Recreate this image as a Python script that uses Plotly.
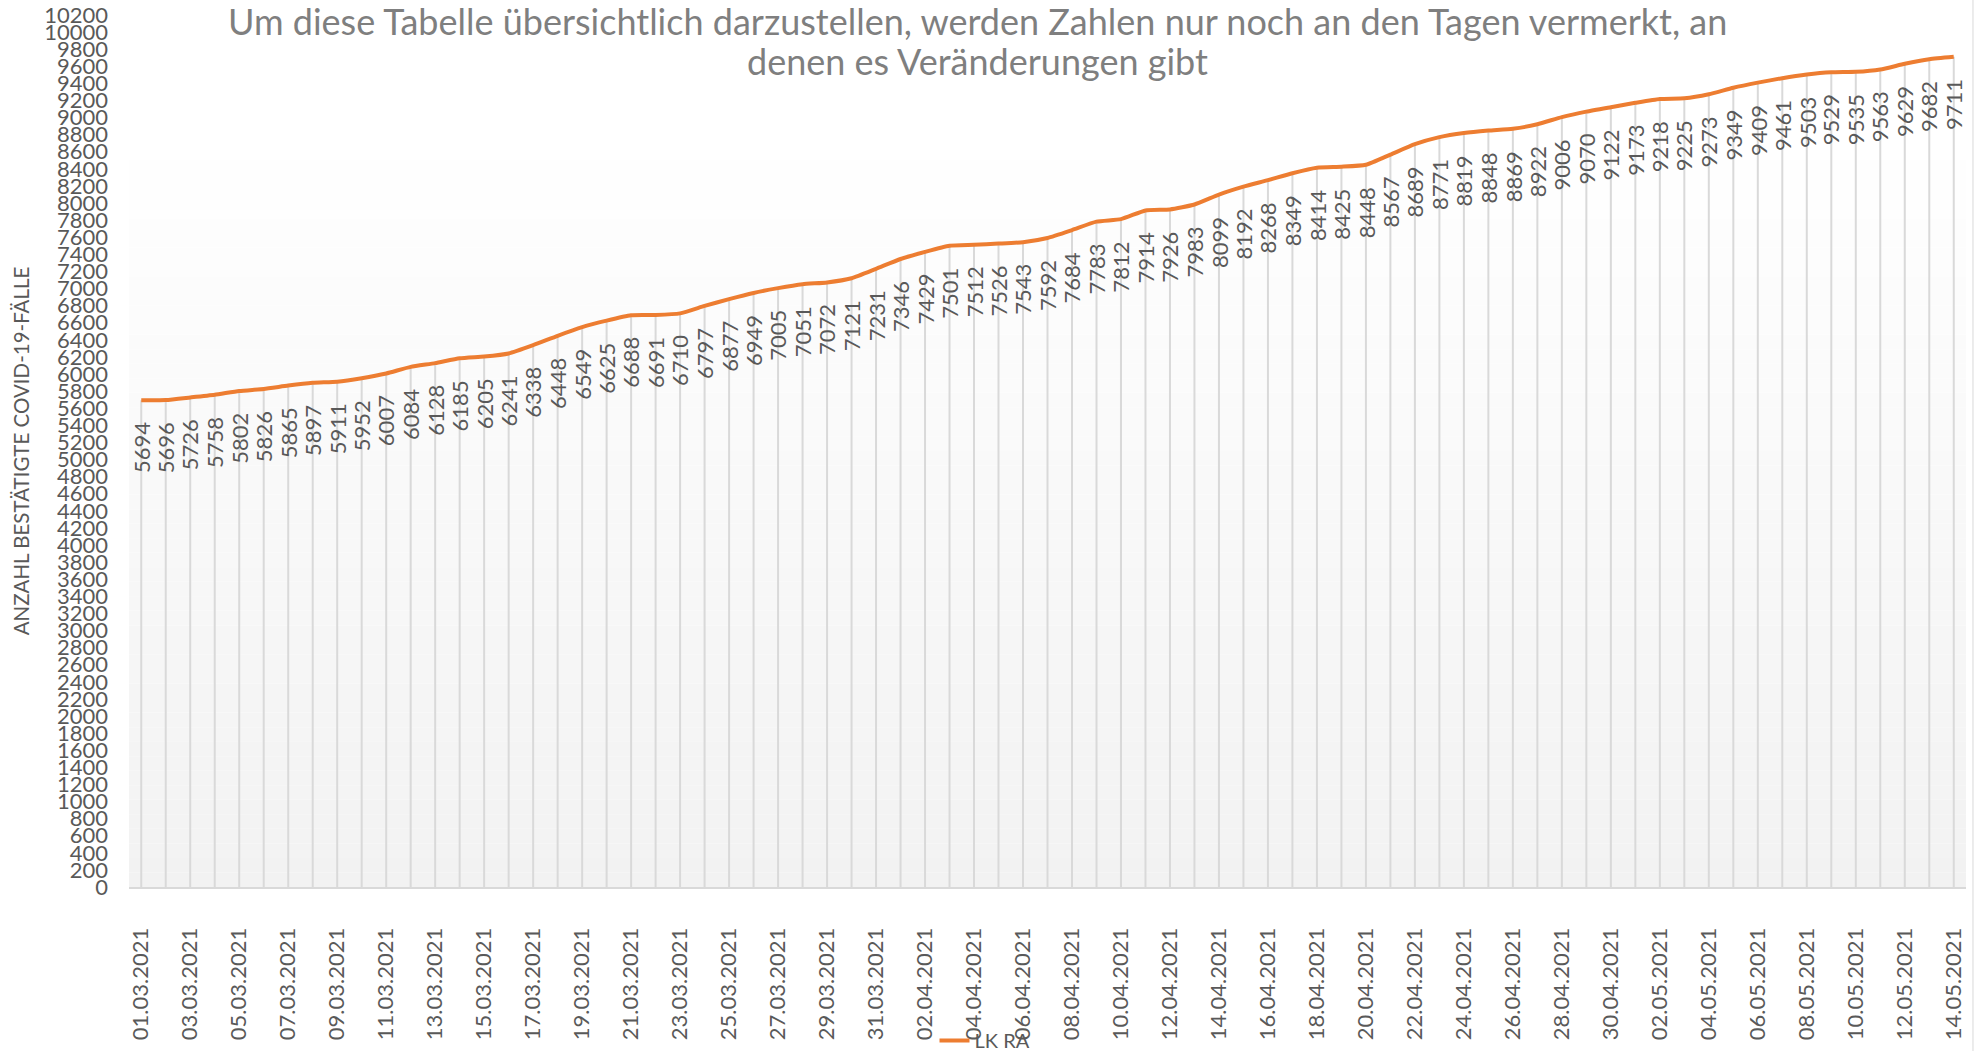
import plotly.graph_objects as go
import pandas as pd

dates = [d.strftime("%d.%m.%Y") for d in pd.date_range("2021-03-01", "2021-05-14", freq="D")]
values = [5694, 5696, 5726, 5758, 5802, 5826, 5865, 5897, 5911, 5952,
          6007, 6084, 6128, 6185, 6205, 6241, 6338, 6448, 6549, 6625,
          6688, 6691, 6710, 6797, 6877, 6949, 7005, 7051, 7072, 7121,
          7231, 7346, 7429, 7501, 7512, 7526, 7543, 7592, 7684, 7783,
          7812, 7914, 7926, 7983, 8099, 8192, 8268, 8349, 8414, 8425,
          8448, 8567, 8689, 8771, 8819, 8848, 8869, 8922, 9006, 9070,
          9122, 9173, 9218, 9225, 9273, 9349, 9409, 9461, 9503, 9529,
          9535, 9563, 9629, 9682, 9711]
series_name = "LK RA"
title_lines = ["Um diese Tabelle übersichtlich darzustellen, werden Zahlen nur noch an den Tagen vermerkt, an",
               "denen es Veränderungen gibt"]
y_title = "ANZAHL BESTÄTIGTE COVID-19-FÄLLE"
y_ticks = list(range(0, 10201, 200))
y_ticktext = [str(v) for v in y_ticks]

FONT = "Lato"
TXT = "#595959"

fig = go.Figure()

# drop lines
fig.add_trace(go.Scatter(
    x=dates, y=values, mode="markers",
    marker=dict(size=1, color="rgba(0,0,0,0)"),
    error_y=dict(type="data", symmetric=False, array=[0] * len(values),
                 arrayminus=values, width=0, thickness=2, color="#d9d9d9"),
    showlegend=False, hoverinfo="skip"))

fig.add_trace(go.Scatter(
    x=dates, y=values, mode="lines", name=series_name,
    line=dict(color="#ED7D31", width=4, shape="spline", smoothing=0.5)))

# data labels
for d, v in zip(dates, values):
    fig.add_annotation(x=d, y=v, text=str(v), showarrow=False, textangle=-90,
                       xanchor="center", yanchor="top", yshift=-20,
                       font=dict(family=FONT, size=22, color=TXT))

# title (two centred lines)
for line, yp in zip(title_lines, [1 + (15 - 21) / 872, 1 + (15 - 61) / 872]):
    fig.add_annotation(text=line, xref="paper", yref="paper", x=(977 - 129) / 1837, y=yp,
                       xanchor="center", yanchor="middle", showarrow=False,
                       font=dict(family=FONT, size=36, color="#7f7f7f"))

# gradient background stripes
N = 60
for i in range(N):
    t = i / (N - 1)  # 0 bottom -> 1 top
    g = round(242 + (255 - 242) * min(1.0, t * 1.15))
    fig.add_shape(type="rect", xref="paper", yref="paper",
                  x0=0, x1=1, y0=i / N, y1=(i + 1) / N,
                  fillcolor=f"rgb({g},{g},{g})", line=dict(width=0), layer="below")

# right border of chart area
fig.add_shape(type="line", xref="paper", yref="paper", x0=1.0038, x1=1.0038,
              y0=-0.2, y1=1.02, line=dict(color="#d9d9d9", width=1))

fig.update_layout(
    width=1977, height=1051,
    margin=dict(l=129, r=11, t=15, b=164, autoexpand=False),
    paper_bgcolor="white", plot_bgcolor="rgba(0,0,0,0)",
    font=dict(family=FONT, color=TXT),
    legend=dict(orientation="h", x=(985 - 129) / 1837, xanchor="center",
                y=0.01, yref="container", yanchor="middle",
                font=dict(family=FONT, size=20, color=TXT), bgcolor="rgba(0,0,0,0)"),
    showlegend=True,
)

fig.update_xaxes(
    type="category", range=[-0.5, len(dates) - 0.5], automargin=False,
    tickmode="array", tickvals=dates[::2], ticktext=dates[::2],
    tickangle=-90, tickfont=dict(family=FONT, size=22, color=TXT),
    showgrid=False, showline=True, linecolor="#d9d9d9", linewidth=2,
    ticks="", ticklabelstandoff=30, zeroline=False)

fig.update_yaxes(
    range=[0, 10200], tickmode="array", tickvals=y_ticks, ticktext=y_ticktext,
    automargin=False,
    tickfont=dict(family=FONT, size=22, color=TXT),
    showgrid=False, showline=False, zeroline=False, ticks="",
    ticklabelstandoff=20,
    title=dict(text=y_title, font=dict(family=FONT, size=20.5, color=TXT), standoff=9))

fig.write_html("out.html", config={"displayModeBar": False},
               post_script="document.body.style.margin='0';")
